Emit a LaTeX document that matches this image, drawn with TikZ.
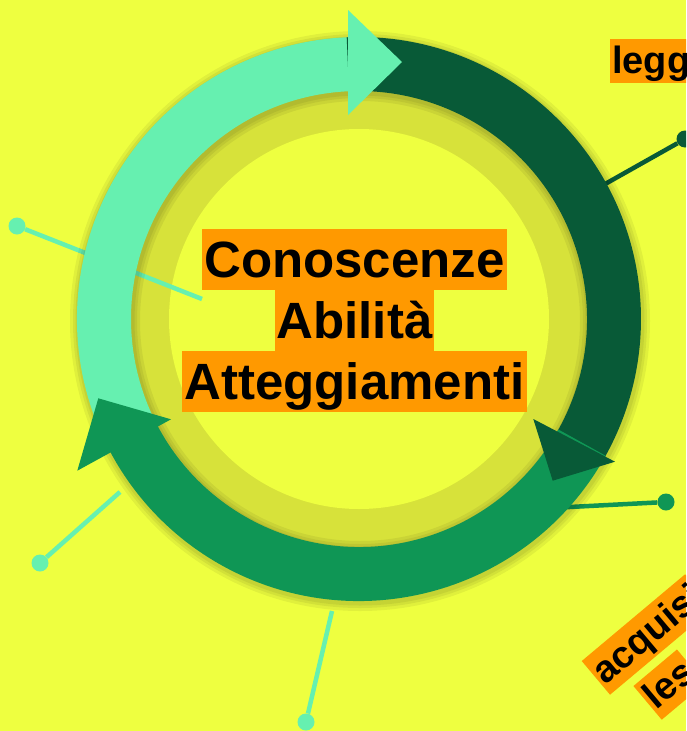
\documentclass[tikz,border=0pt]{standalone}
\usepackage{fontspec}
\setmainfont{Liberation Sans}
\definecolor{bgY}{HTML}{EEFF40}
\definecolor{khaki}{HTML}{D7E23A}
\definecolor{lgreen}{HTML}{66F0B0}
\definecolor{mgreen}{HTML}{0F9655}
\definecolor{dgreen}{HTML}{085A37}
\definecolor{orng}{HTML}{FF9900}
\begin{document}
\begin{tikzpicture}[x=1pt,y=1pt,
  pinline/.style={line width=4.5pt},
  pindot/.style={circle, inner sep=0pt, minimum size=17pt},
  hl/.style={fill=orng, text=black, inner xsep=2pt, inner ysep=0pt,
    font=\bfseries\fontsize{51}{61}\selectfont, text height=48pt, text depth=13pt},
  hls/.style={fill=orng, text=black, inner xsep=2pt, inner ysep=0pt,
    font=\bfseries\fontsize{38}{44}\selectfont, text height=34pt, text depth=10pt}]
\clip (0,-731) rectangle (686,0);
\fill[bgY] (0,-731) rectangle (686,0);
\coordinate (C) at (359,-319);
\fill[khaki] (C) circle[radius=229];
\fill[bgY] (C) circle[radius=190];

% pins
\node[pindot, fill=dgreen] (p1) at (685,-139) {};
\coordinate (p1e) at (598,-188);
\draw[pinline, dgreen] (p1) -- (p1e);
\node[pindot, fill=lgreen] (p2) at (17,-226) {};
\coordinate (p2e) at (202,-299);
\draw[pinline, lgreen] (p2) -- (p2e);
\node[pindot, fill=mgreen] (p3) at (666,-502) {};
\coordinate (p3e) at (560,-507.5);
\draw[pinline, mgreen] (p3) -- (p3e);
\node[pindot, fill=lgreen] (p4) at (40,-563) {};
\coordinate (p4e) at (120,-492);
\draw[pinline, lgreen] (p4) -- (p4e);
\node[pindot, fill=lgreen] (p5) at (306,-722) {};
\coordinate (p5e) at (332,-611);
\draw[pinline, lgreen] (p5) -- (p5e);

% soft shadow of the ring
\foreach \w in {16,10,5}
  \draw[black, opacity=0.06, line width=\w pt] (360,-321) circle[radius=282] (360,-321) circle[radius=228];

% ring of arrows
\begin{scope}[shift={(359,-319)}]
  \fill[lgreen] (208:282) arc[start angle=208, end angle=90.5, radius=282]
    -- (90.5:228) arc[start angle=90.5, end angle=208, radius=228] -- cycle;
  \fill[dgreen] (92.5:282) arc[start angle=92.5, end angle=-31, radius=282]
    -- (-31:228) arc[start angle=-31, end angle=92.5, radius=228] -- cycle;
  \fill[mgreen] (-29:282) arc[start angle=-29, end angle=-154, radius=282]
    -- (-154:228) arc[start angle=-154, end angle=-29, radius=228] -- cycle;
  \fill[lgreen] (-11,309) -- (43,257) -- (-11,204) -- cycle;
  \fill[dgreen] (174.3,-100) -- (193.7,-161.7) -- (256,-142.7) -- cycle;
  \fill[mgreen] (-260.7,-79.3) -- (-188,-100.3) -- (-281.7,-151.7) -- cycle;
\end{scope}

% texts
\node[hl, anchor=north] (t1) at (354.5,-229) {Conoscenze};
\node[hl, anchor=north] (t2) at (354.5,-290) {Abilità};
\node[hl, anchor=north] (t3) at (354.5,-351) {Atteggiamenti};
\node[hls, anchor=north west] (r1) at (610,-39) {legg};
\node[hls, anchor=south west, rotate=40] (r2) at (610,-695) {acquisi};
\node[hls, anchor=south west, rotate=40] (r3) at (661.7,-720) {les};
\end{tikzpicture}
\end{document}
